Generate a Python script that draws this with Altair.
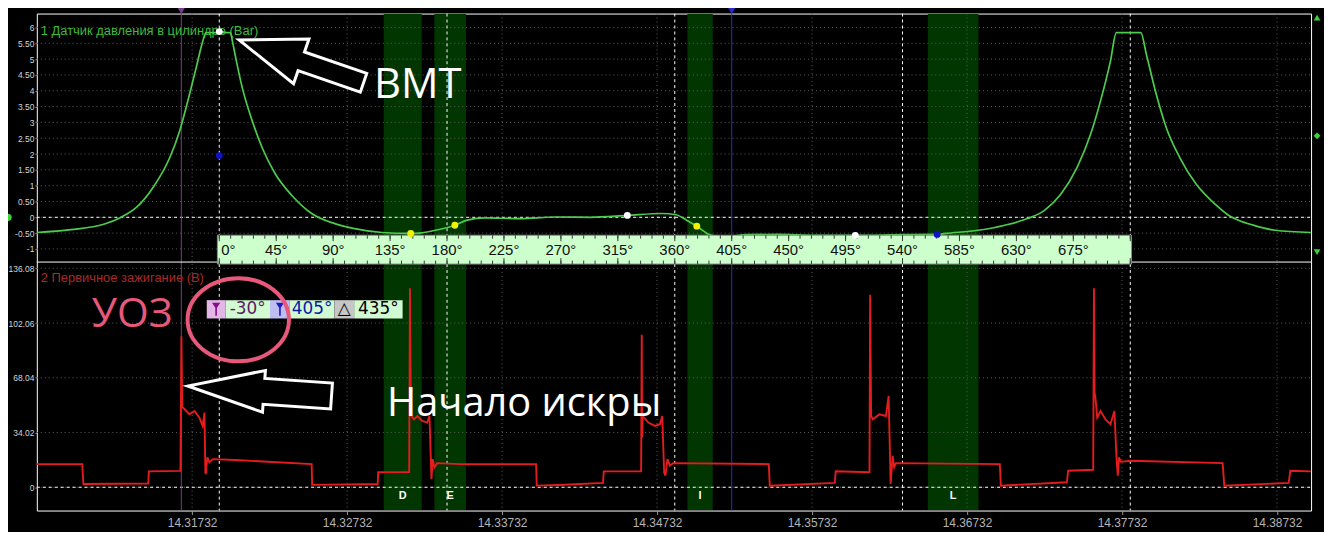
import altair as alt
import pandas as pd

# ---------------- data ----------------
# crank angle (deg) / pressure (bar) of channel 1
PRESS_DEG = [-144.2, -117.4, -91.3, -78.3, -65.3, -52.2, -39.1, -31.3, -23.5, -18.3, -13.1, -10.5,
             8.8, 10.4, 13.0, 18.2, 26.1, 33.9, 44.3, 57.4, 73.0, 91.3, 106.9, 128.6, 151.3, 159.6,
             170.8, 186.2, 195.9, 210.0, 237.9, 265.5, 293.7, 322.5, 349.7, 361.0, 369.3, 377.4,
             388.9, 400.0, 416.6, 441.7, 470.0, 502.7, 540.0, 567.4, 573.9, 599.7, 620.8, 638.8,
             652.2, 665.2, 678.0, 688.7, 696.5, 704.3, 709.0, 728.3, 732.8, 740.6, 748.4, 759.1,
             771.9, 787.5, 798.2, 806.0, 816.5, 834.5, 862.7]
PRESS_BAR = [-0.48, -0.39, -0.22, -0.01, 0.32, 0.95, 1.89, 2.73, 3.89, 4.72, 5.56, 5.84,
             5.84, 5.56, 5.04, 4.09, 3.04, 2.20, 1.37, 0.69, 0.12, -0.20, -0.36, -0.48, -0.51, -0.49,
             -0.41, -0.25, -0.09, -0.02, -0.04, 0.01, 0.00, 0.06, 0.12, 0.08, -0.09, -0.28,
             -0.57, -0.62, -0.55, -0.54, -0.57, -0.57, -0.55, -0.54, -0.51, -0.41, -0.25, -0.04,
             0.22, 0.74, 1.58, 2.63, 3.68, 4.93, 5.84, 5.84, 5.14, 3.88, 2.84, 1.89,
             1.06, 0.40, 0.05, -0.10, -0.24, -0.41, -0.48]

# crank angle (deg) / primary ignition voltage (V) of channel 2
IGN_DEG = [-144.2, -108.3, -107.4, -56.1, -55.7, -30.7, -29.9, -29.3, -27.4, -23.5, -19.6, -15.7,
           -13.1, -11.7, -11.0, -10.6, -10.2, -9.4, -7.8, -5.2, 12.8, 73.0, 73.4, 125.2, 125.6,
           150.1, 150.7, 151.3, 151.8, 153.9, 156.5, 160.4, 164.3, 166.1, 166.9, 167.7, 168.7,
           170.1, 172.2, 190.4, 250.4, 250.9, 268.7, 303.3, 303.9, 333.4, 333.9, 334.2, 334.6,
           339.1, 344.3, 348.3, 350.1, 351.6, 352.6, 354.2, 356.1, 358.7, 434.3, 435.1, 486.5,
           487.2, 513.9, 514.4, 515.2, 516.5, 521.7, 526.9, 529.0, 529.8, 530.6, 532.2, 533.4,
           534.8, 616.9, 617.7, 669.9, 670.9, 690.7, 691.3, 691.8, 692.6, 693.9, 696.5, 700.4,
           704.3, 707.5, 709.0, 710.1, 711.1, 712.6, 720.0, 793.0, 794.3, 845.2, 846.5, 862.7]
IGN_V = [14.4, 14.4, 2.0, 2.3, 9.9, 10.2, 93.8, 50.0, 48.5, 45.3, 47.4, 43.3,
         38.1, 46.4, 9.3, 8.2, 12.6, 18.6, 15.5, 17.5, 16.9, 14.4, 1.5, 2.0, 9.3,
         9.5, 123.7, 58.8, 44.3, 42.2, 44.3, 41.2, 40.2, 44.3, 25.0, 5.1, 17.5,
         12.4, 15.0, 14.4, 14.4, 1.0, 1.4, 2.7, 9.9, 9.9, 94.8, 30.9, 44.3,
         40.2, 38.1, 39.2, 44.3, 9.3, 7.2, 17.5, 13.4, 15.0, 14.4, 1.0, 2.7,
         9.9, 9.3, 119.6, 44.3, 42.2, 45.3, 44.3, 56.7, 30.0, 2.0, 19.5, 12.4,
         15.0, 14.4, 1.0, 3.1, 10.3, 10.9, 123.7, 58.8, 54.6, 43.3, 47.4, 42.2,
         39.2, 47.4, 20.0, 7.2, 18.6, 15.8, 16.5, 15.0, 1.0, 2.7, 10.3, 9.9]

TIME_TICKS = [14.31732, 14.32732, 14.33732, 14.34732, 14.35732, 14.36732, 14.37732, 14.38732]
P_TICKS = [-1, -0.5, 0, 0.5, 1, 1.5, 2, 2.5, 3, 3.5, 4, 4.5, 5, 5.5, 6]
V_TICKS = [0, 34.02, 68.04, 102.06, 136.08]

TIME_DOMAIN = [14.30730, 14.38952]
DEG_DOMAIN = [-144.2, 862.9]
P_DOMAIN = [-1.414, 6.44]
V_DOMAIN = [-14.47, 139.98]

TDC_DEG = [0, 180, 360, 540, 720]
RULER_LABEL_DEG = [0, 45, 90, 135, 180, 225, 270, 315, 360, 405, 450, 495, 540, 585, 630, 675]
RULER_SPAN = [-1.5, 721]

BAND_NAMES = ["D", "E", "I", "L"]
BAND_START = [130, 170, 370, 560]
BAND_END = [160, 195, 390, 600]

CURSOR_DEG = [-30, 405]
CURSOR_COLORS = ["#7d3c8c", "#2a2ad0"]

DOT_DEG = [0, 0, 151.3, 186.2, 322.5, 377.4, 502.7, 567.4]
DOT_BAR = [5.87, 1.95, -0.51, -0.25, 0.06, -0.28, -0.57, -0.54]
DOT_COLORS = ["#ffffff", "#1010c8", "#f2f200", "#f2f200", "#ffffff", "#f2f200", "#ffffff", "#1010c8"]

TITLE1 = "1 Датчик давления в цилиндре (Bar)"
TITLE2 = "2 Первичное зажигание (В)"

# readout box (crank-angle cursors)
READ_START = [-9.9, 4.9, 40.1, 55.8, 91.0, 106.6]
READ_END = [4.9, 40.1, 55.8, 91.0, 106.6, 144.9]
READ_FILL = ["#e2b6e6", "#d2fad2", "#bebef2", "#d2fad2", "#c6c6c6", "#d2fad2"]
READ_TEXT = ["", "-30°", "", "405°", "△", "435°"]
READ_TCOL = ["#000000", "#5c1c5c", "#000000", "#0a1aa8", "#000000", "#000000"]
READ_KIND = ["icon", "text", "icon", "text", "text", "text"]
READ_ICON_COL = ["#84108a", "", "#1b1bc4", "", "", ""]
READ_V = [104.9, 116.3]

# annotations
ANN_BMT = ("ВМТ", 122.3, 3.77)
ANN_UOZ = ("УОЗ", -100.7, 99.6)
ANN_SPARK = ("Начало искры", 132.5, 44.1)
ARROW1 = (64.8, 4.93)
ARROW2 = (31.9, 59.8)
RING = (15.0, 104.1)

# ---------------- layout / style ----------------
W, H = 1282, 500
TOP_RANGE = [250, 0]
BOT_RANGE = [500, 250]
PINK = "#e8587a"
GRID = "#5e5e5e"

ARROW1_PATH = "M1,0 L0,-0.36 L0,-0.15 L-1,-0.15 L-1,0.15 L0,0.15 L0,0.36 Z"
ARROW2_PATH = "M1,0 L-0.06,-0.29 L-0.06,-0.18 L-1,-0.18 L-1,0.18 L-0.06,0.18 L-0.06,0.29 Z"
ELLIPSE_PATH = ("M1,0 C1,0.453 0.552,0.82 0,0.82 C-0.552,0.82 -1,0.453 -1,0 "
                "C-1,-0.453 -0.552,-0.82 0,-0.82 C0.552,-0.82 1,-0.453 1,0 Z")
FUNNEL_PATH = "M-0.5,-0.8 L0.5,-0.8 L0.1,-0.2 L0.1,0.8 L-0.1,0.8 L-0.1,-0.2 Z"


def xdeg(field):
    return alt.X(f"{field}:Q", scale=alt.Scale(domain=DEG_DOMAIN, nice=False, zero=False), axis=None)


def ytop(field, axis=None):
    return alt.Y(f"{field}:Q", scale=alt.Scale(domain=P_DOMAIN, range=TOP_RANGE, nice=False, zero=False),
                 axis=axis)


def ybot(field, axis=None):
    return alt.Y(f"{field}:Q", scale=alt.Scale(domain=V_DOMAIN, range=BOT_RANGE, nice=False, zero=False),
                 axis=axis)


one = pd.DataFrame({"z": [0]})
press_df = pd.DataFrame({"deg": PRESS_DEG, "bar": PRESS_BAR})
ign_df = pd.DataFrame({"deg": IGN_DEG, "v": IGN_V})
bands_df = pd.DataFrame({"name": BAND_NAMES, "s": BAND_START, "e": BAND_END})
cursor_df = pd.DataFrame({"deg": CURSOR_DEG, "c": CURSOR_COLORS})
dots_df = pd.DataFrame({"deg": DOT_DEG, "bar": DOT_BAR, "c": DOT_COLORS})
read_df = pd.DataFrame({"s": READ_START, "e": READ_END, "fill": READ_FILL, "text": READ_TEXT,
                        "tc": READ_TCOL, "kind": READ_KIND, "ic": READ_ICON_COL,
                        "lo": READ_V[0], "hi": READ_V[1]})

layers = []

# green bands
layers.append(alt.Chart(bands_df).mark_rect(color="#013601").encode(
    x=xdeg("s"), x2="e:Q", y=alt.value(0.5), y2=alt.value(H - 0.5)))

# time grid + axis
layers.append(alt.Chart(pd.DataFrame({"t": TIME_TICKS})).mark_rule(
    color=GRID, strokeDash=[1, 3], strokeWidth=1).encode(
    x=alt.X("t:Q", scale=alt.Scale(domain=TIME_DOMAIN, nice=False, zero=False),
            axis=alt.Axis(values=TIME_TICKS, format=".5f", orient="bottom", grid=False, domain=False,
                          tickSize=4, tickColor="#9a9a9a", labelColor="#b4b4b4",
                          labelFont="Liberation Sans", labelFontSize=12, labelPadding=3,
                          title=None, labelFlush=False, labelOverlap=False)),
    y=alt.value(0), y2=alt.value(H)))

# pressure grid + axis
layers.append(alt.Chart(pd.DataFrame({"p": P_TICKS})).mark_rule(
    color=GRID, strokeDash=[1, 3], strokeWidth=1).encode(
    y=ytop("p", alt.Axis(values=P_TICKS, orient="left", grid=False, domain=False, tickSize=2,
                         tickColor="#8a8a8a", labelColor="#d4d4d4", labelFont="Liberation Sans",
                         labelFontSize=8.5, labelPadding=1, title=None, labelFlush=False,
                         labelOverlap=False,
                         labelExpr="(datum.value < 0 ? '-' : '') + (abs(datum.value) % 1 == 0 ? "
                                   "format(abs(datum.value), 'd') : format(abs(datum.value), '.2f'))")),
    x=alt.value(0), x2=alt.value(W)))

# voltage grid + axis
layers.append(alt.Chart(pd.DataFrame({"v": V_TICKS})).mark_rule(
    color=GRID, strokeDash=[1, 3], strokeWidth=1).encode(
    y=ybot("v", alt.Axis(values=V_TICKS, orient="left", grid=False, domain=False, tickSize=2,
                         tickColor="#8a8a8a", labelColor="#d4d4d4", labelFont="Liberation Sans",
                         labelFontSize=8.5, labelPadding=1, title=None, labelFlush=False,
                         labelOverlap=False,
                         labelExpr="datum.value == 0 ? '0' : format(datum.value, '.2f')")),
    x=alt.value(0), x2=alt.value(W)))

# zero lines
layers.append(alt.Chart(one).mark_rule(color="white", strokeDash=[3, 3]).encode(
    y=ytop("z"), x=alt.value(0), x2=alt.value(W)))
layers.append(alt.Chart(one).mark_rule(color="white", strokeDash=[3, 3]).encode(
    y=ybot("z"), x=alt.value(0), x2=alt.value(W)))

# TDC / BDC verticals
layers.append(alt.Chart(pd.DataFrame({"deg": TDC_DEG})).mark_rule(
    color="white", strokeDash=[3, 3]).encode(x=xdeg("deg"), y=alt.value(0), y2=alt.value(H)))

# cursors
layers.append(alt.Chart(cursor_df).mark_rule(strokeWidth=1).encode(
    x=xdeg("deg"), color=alt.Color("c:N", scale=None), y=alt.value(0), y2=alt.value(H)))
layers.append(alt.Chart(cursor_df).mark_point(shape="triangle-down", filled=True, size=110, opacity=1).encode(
    x=xdeg("deg"), color=alt.Color("c:N", scale=None), y=alt.value(-4)))

# separator between panels
layers.append(alt.Chart(one).mark_rule(color="white").encode(
    y=alt.value(250), x=alt.value(0), x2=alt.value(W)))

# titles
layers.append(alt.Chart(pd.DataFrame({"t": [TITLE1]})).mark_text(
    align="left", baseline="middle", font="Liberation Sans", fontSize=13, color="#3cbc3c").encode(
    text="t:N", x=alt.value(4), y=alt.value(18)))
layers.append(alt.Chart(pd.DataFrame({"t": [TITLE2]})).mark_text(
    align="left", baseline="middle", font="Liberation Sans", fontSize=13, color="#a82a2a").encode(
    text="t:N", x=alt.value(4), y=alt.value(266)))

# signals
layers.append(alt.Chart(ign_df).mark_line(color="#e41c1c", strokeWidth=1.9).encode(
    x=xdeg("deg"), y=ybot("v"), order="deg:Q"))
layers.append(alt.Chart(press_df).mark_line(color="#4ccc4c", strokeWidth=1.7, interpolate="monotone").encode(
    x=xdeg("deg"), y=ytop("bar"), order="deg:Q"))

# crank-angle ruler
layers.append(alt.Chart(pd.DataFrame({"a": [RULER_SPAN[0]], "b": [RULER_SPAN[1]]})).mark_rect(
    fill="#ccffcc", stroke="#8c8c8c", strokeWidth=1).encode(
    x=xdeg("a"), x2="b:Q", y=alt.value(223), y2=alt.value(252)))
minor = pd.DataFrame({"deg": list(range(0, 721, 9))})
major = pd.DataFrame({"deg": list(range(0, 721, 45))})
for df, y1, y2 in [(minor, 223, 226.5), (minor, 248.5, 252), (major, 223, 229), (major, 246, 252)]:
    layers.append(alt.Chart(df).mark_rule(color="#3a3a3a", strokeWidth=1).encode(
        x=xdeg("deg"), y=alt.value(y1), y2=alt.value(y2)))
rl = pd.DataFrame({"deg": RULER_LABEL_DEG, "t": [f"{d}°" for d in RULER_LABEL_DEG]})
layers.append(alt.Chart(rl).transform_filter("datum.deg == 0").mark_text(
    align="left", baseline="middle", dx=2, font="Liberation Sans", fontSize=15, color="#111111").encode(
    x=xdeg("deg"), y=alt.value(238), text="t:N"))
layers.append(alt.Chart(rl).transform_filter("datum.deg > 0").mark_text(
    align="center", baseline="middle", font="Liberation Sans", fontSize=15, color="#111111").encode(
    x=xdeg("deg"), y=alt.value(238), text="t:N"))

# markers on pressure curve
layers.append(alt.Chart(dots_df).mark_circle(size=48, opacity=1).encode(
    x=xdeg("deg"), y=ytop("bar"), color=alt.Color("c:N", scale=None)))

# channel markers at the edges
layers.append(alt.Chart(one).mark_circle(size=55, opacity=1, color="#3ad43a").encode(
    x=alt.value(-29), y=ytop("z")))
for shp, yy in [("triangle-up", 4), ("diamond", 123), ("triangle-down", 240)]:
    layers.append(alt.Chart(one).mark_point(shape=shp, filled=True, size=45, opacity=1, color="#3ad43a").encode(
        x=alt.value(W + 6), y=alt.value(yy)))

# band labels
layers.append(alt.Chart(bands_df).transform_calculate(mid="(datum.s + datum.e) / 2").mark_text(
    font="Liberation Sans", fontSize=11, fontWeight="bold", color="white", baseline="middle").encode(
    x=xdeg("mid"), y=alt.value(485), text="name:N"))

# readout box
layers.append(alt.Chart(read_df).mark_rect().encode(
    x=xdeg("s"), x2="e:Q", y=ybot("lo"), y2="hi:Q", color=alt.Color("fill:N", scale=None)))
layers.append(alt.Chart(read_df).transform_filter("datum.kind == 'text'").transform_calculate(
    mid="(datum.s + datum.e) / 2", ym="(datum.lo + datum.hi) / 2").mark_text(
    font="DejaVu Sans", fontSize=17, baseline="middle", align="center").encode(
    x=xdeg("mid"), y=ybot("ym"), text="text:N", color=alt.Color("tc:N", scale=None)))
layers.append(alt.Chart(read_df).transform_filter("datum.kind == 'icon'").transform_calculate(
    mid="(datum.s + datum.e) / 2", ym="(datum.lo + datum.hi) / 2").mark_point(
    shape=FUNNEL_PATH, filled=True, size=270, opacity=1).encode(
    x=xdeg("mid"), y=ybot("ym"), color=alt.Color("ic:N", scale=None)))

# annotations
layers.append(alt.Chart(pd.DataFrame({"d": [ARROW1[0]], "p": [ARROW1[1]]})).mark_point(
    shape=ARROW1_PATH, size=17556, angle=199, fill="black", fillOpacity=1, stroke="white",
    strokeWidth=3, opacity=1, filled=False).encode(x=xdeg("d"), y=ytop("p")))
layers.append(alt.Chart(pd.DataFrame({"t": [ANN_BMT[0]], "d": [ANN_BMT[1]], "p": [ANN_BMT[2]]})).mark_text(
    font="Open Sans", fontSize=42, color="white", align="left", baseline="alphabetic").encode(
    x=xdeg("d"), y=ytop("p"), text="t:N"))
layers.append(alt.Chart(pd.DataFrame({"d": [ARROW2[0]], "v": [ARROW2[1]]})).mark_point(
    shape=ARROW2_PATH, size=21025, angle=184, fill="black", fillOpacity=1, stroke="white",
    strokeWidth=3, opacity=1, filled=False).encode(x=xdeg("d"), y=ybot("v")))
layers.append(alt.Chart(pd.DataFrame({"d": [RING[0]], "v": [RING[1]]})).mark_point(
    shape=ELLIPSE_PATH, size=10404, stroke=PINK, strokeWidth=4, opacity=1, filled=False).encode(
    x=xdeg("d"), y=ybot("v")))
layers.append(alt.Chart(pd.DataFrame({"t": [ANN_UOZ[0]], "d": [ANN_UOZ[1]], "v": [ANN_UOZ[2]]})).mark_text(
    font="Open Sans", fontSize=41, color=PINK, align="left", baseline="alphabetic").encode(
    x=xdeg("d"), y=ybot("v"), text="t:N"))
layers.append(alt.Chart(pd.DataFrame({"t": [ANN_SPARK[0]], "d": [ANN_SPARK[1]], "v": [ANN_SPARK[2]]})).mark_text(
    font="Open Sans", fontSize=40, color="white", align="left", baseline="alphabetic").encode(
    x=xdeg("d"), y=ybot("v"), text="t:N"))

chart = alt.layer(*layers).resolve_scale(x="independent", y="independent").properties(
    width=W, height=H, background="black",
    padding={"left": 29, "top": 4, "right": 13, "bottom": 20},
    autosize=alt.AutoSizeParams(type="none"),
).configure_view(stroke="white", strokeWidth=1)

chart.save("out.html", embed_options={"renderer": "svg", "actions": False})
